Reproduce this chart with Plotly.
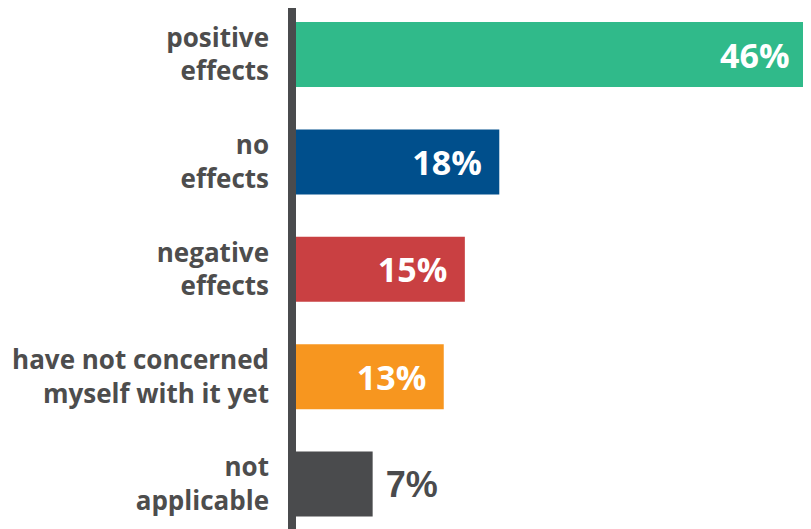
import plotly.graph_objects as go

categories = ["positive<br>effects", "no<br>effects", "negative<br>effects",
              "have not concerned<br>myself with it yet", "not<br>applicable"]
values = [46, 18.3, 15.2, 13.3, 6.9]
labels = ["46%", "18%", "15%", "13%", "7%"]
colors = ["#30ba8a", "#004f8c", "#c94042", "#f7961f", "#4a4b4d"]
text_pos = ["inside", "inside", "inside", "inside", "outside"]

texts = [l + "\u00a0\u2009" if p == "inside" else "\u00a0" + l for l, p in zip(labels, text_pos)]

fig = go.Figure(go.Bar(
    x=values, y=categories, orientation="h",
    marker=dict(color=colors, line=dict(width=0)),
    text=texts, textposition=text_pos, insidetextanchor="end",
    insidetextfont=dict(family="Open Sans", size=34, color="white", weight="bold"),
    outsidetextfont=dict(family="Liberation Sans", size=36, color="#4a4b4d", weight="bold"),
    cliponaxis=False, width=0.605,
))

# thick baseline to the left of the bars
fig.add_shape(type="rect", xref="paper", yref="paper", xsizemode="pixel",
              xanchor=0, x0=-8, x1=0, y0=0, y1=1,
              fillcolor="#4a4b4d", line=dict(width=0))

# the page body adds 8px on the top and left, so the figure is 803x521
fig.update_layout(
    width=803, height=521,
    margin=dict(l=288, r=0, t=0, b=0),
    plot_bgcolor="white", paper_bgcolor="white",
    showlegend=False,
    xaxis=dict(range=[0, 46.36], visible=False, fixedrange=True),
    yaxis=dict(
        range=[4.418, -0.433], showline=False,
        showgrid=False, zeroline=False, ticks="",
        tickfont=dict(family="Open Sans", size=26, color="#4d4d4d", weight="bold"),
        ticklabelstandoff=26,
    ),
)

fig.write_html("out.html")
